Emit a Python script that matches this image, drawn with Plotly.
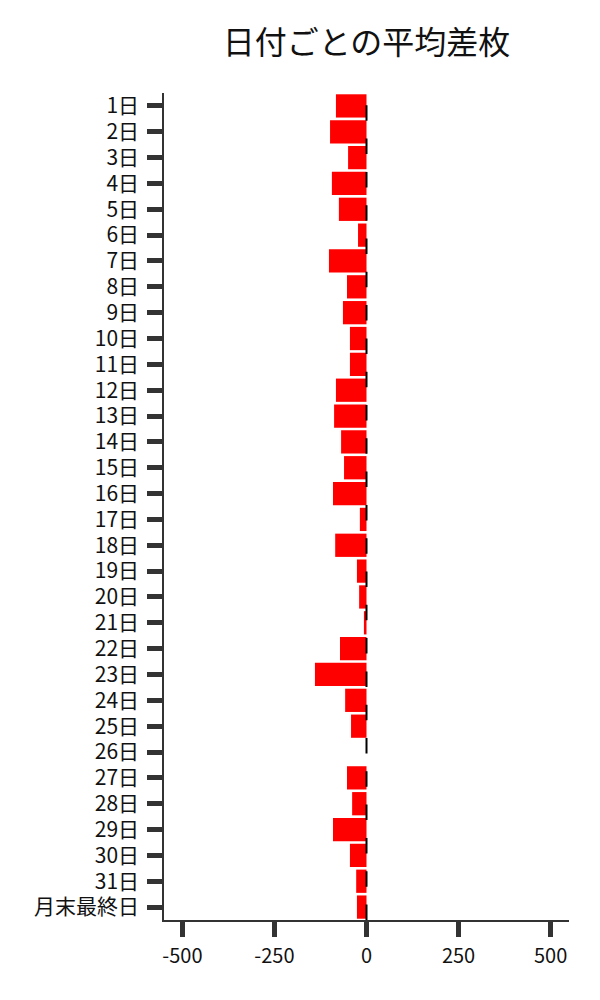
import plotly.graph_objects as go

# 日付ごとの平均差枚
days = [f"{i}日" for i in range(1, 32)] + ["月末最終日"]
avg_diff = [
    -83, -99, -50, -94, -75, -23, -102, -53, -64, -45,
    -45, -83, -88, -69, -61, -91, -18, -85, -26, -20,
    -7, -72, -140, -58, -42, 0, -53, -39, -91, -45,
    -28, -26,
]
x_ticks = [-500, -250, 0, 250, 500]

FONT = "Noto Sans CJK JP"


def make_figure():
    fig = go.Figure(go.Bar(
        x=avg_diff,
        y=days,
        orientation="h",
        marker_color="red",
        marker_line_width=0,
        hovertemplate="%{y}: %{x}<extra></extra>",
    ))

    # dashed zero line drawn over the bars
    fig.add_shape(
        type="line", xref="x", yref="paper",
        x0=0, x1=0, y0=0, y1=1,
        line=dict(color="black", width=2, dash="15.5px,17.8px"),
    )

    # the page adds an 8px body margin, so margins are trimmed by 8px
    fig.update_layout(
        width=600, height=1000,
        margin=dict(l=156, r=39, t=85, b=88, autoexpand=False),
        paper_bgcolor="white",
        plot_bgcolor="white",
        font=dict(family=FONT, size=20, color="#111"),
        title=dict(
            text="日付ごとの平均差枚",
            font=dict(family=FONT, size=32, color="#111"),
            x=0.5, xref="paper", xanchor="center",
            y=0.965, yanchor="middle",
        ),
        bargap=0.1,
        showlegend=False,
    )
    fig.update_xaxes(
        range=[-550, 550],
        tickvals=x_ticks,
        ticktext=[str(v) for v in x_ticks],
        showgrid=False, zeroline=False,
        showline=True, linecolor="#333", linewidth=1.5,
        ticks="outside", ticklen=15, tickwidth=4.5, tickcolor="#333",
        tickfont=dict(size=20),
        ticklabelstandoff=2,
        automargin=False,
    )
    fig.update_yaxes(
        autorange="reversed",
        showgrid=False, zeroline=False,
        showline=True, linecolor="#333", linewidth=1.5,
        ticks="outside", ticklen=15, tickwidth=4.5, tickcolor="#333",
        tickfont=dict(size=21),
        ticklabelstandoff=4,
        automargin=False,
    )
    return fig


fig = make_figure()
fig.write_html("out.html")
